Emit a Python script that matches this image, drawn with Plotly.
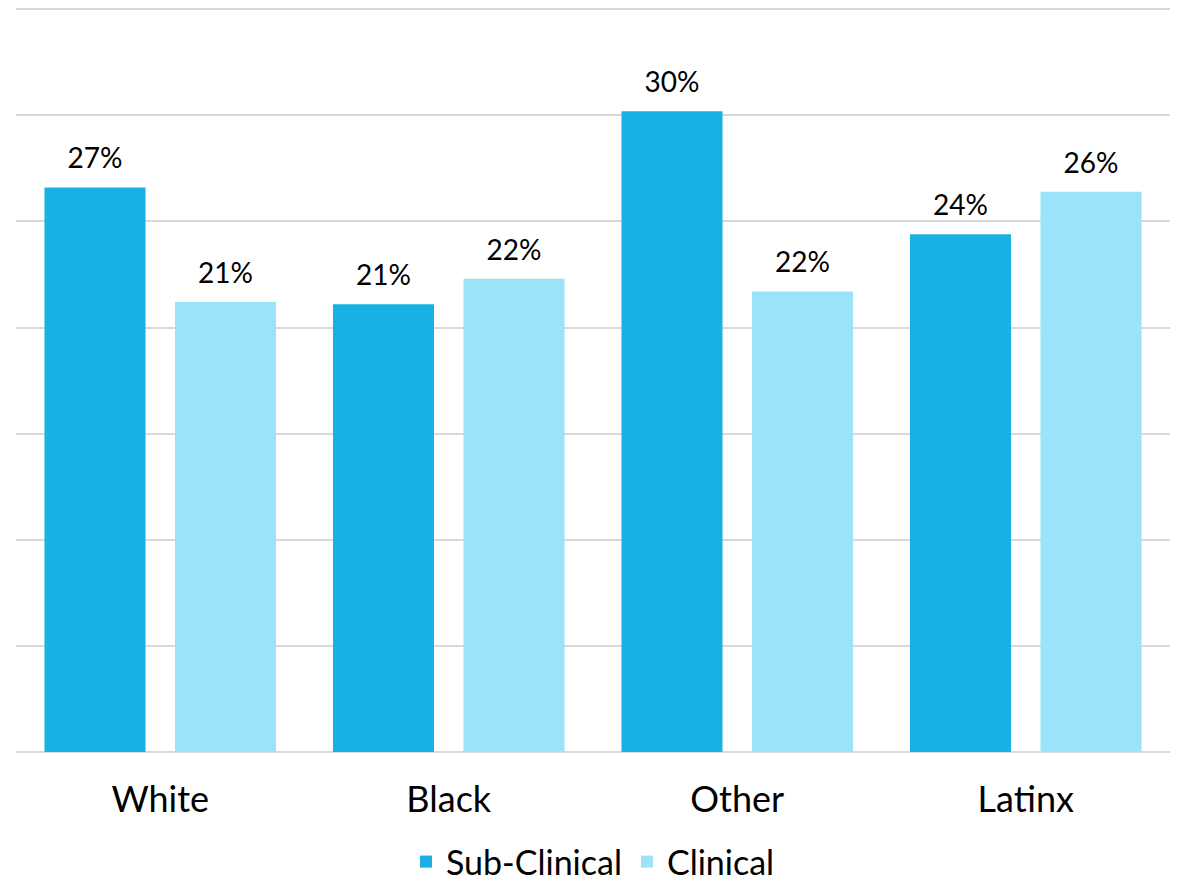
import plotly.graph_objects as go

categories = ["White", "Black", "Other", "Latinx"]
sub_clinical = [26.6, 21.1, 30.2, 24.4]
clinical = [21.2, 22.3, 21.7, 26.4]

FONT = "Lato, 'Open Sans', sans-serif"
SUB_COLOR = "#19B0E3"
CLIN_COLOR = "#9AE3F8"

fig = go.Figure()
for name, vals, color, grp in [("Sub-Clinical", sub_clinical, SUB_COLOR, "a"),
                               ("Clinical", clinical, CLIN_COLOR, "b")]:
    fig.add_trace(go.Bar(
        name=name, x=categories, y=vals, marker_color=color, marker_line_width=0,
        offsetgroup=grp, alignmentgroup="g", hoverinfo="x+y",
    ))
for vals, grp in [(sub_clinical, "a"), (clinical, "b")]:
    fig.add_trace(go.Scatter(
        x=categories, y=vals, mode="markers+text", offsetgroup=grp, alignmentgroup="g",
        text=[f"{v:.0f}%" for v in vals], textposition="top center",
        textfont=dict(size=28, color="#000000", family=FONT),
        marker=dict(size=18, color="rgba(0,0,0,0)"),
        showlegend=False, hoverinfo="skip", cliponaxis=False,
    ))

# page has an 8px body margin; figure is 1170x874 placed at (8, 8)
fig_w, fig_h = 1170, 874
plot_bottom = 744      # baseline (page y 752)
paper_bottom = 864
paper_h = paper_bottom
dom0 = (paper_bottom - plot_bottom) / paper_h

fig.update_layout(
    width=fig_w, height=fig_h,
    margin=dict(l=8, r=8, t=0, b=fig_h - paper_bottom, autoexpand=False),
    paper_bgcolor="white", plot_bgcolor="white",
    barmode="group", bargap=0.095, bargroupgap=0.226,
    scattermode="group", scattergap=0.095,
    font=dict(family=FONT, color="#000000"),
    showlegend=True,
    legend=dict(orientation="h", x=0.5, xanchor="center",
                y=(paper_bottom - 854) / paper_h, yanchor="middle",
                font=dict(size=34, family=FONT), traceorder="normal"),
)
fig.update_yaxes(domain=[dom0, 1], range=[0, 35.06], tickvals=[0, 5, 10, 15, 20, 25, 30, 35],
                 showticklabels=False, showgrid=True,
                 gridcolor="#D9D9D9", gridwidth=2, zeroline=True, zerolinecolor="#D9D9D9",
                 zerolinewidth=2, automargin=False)
fig.update_xaxes(tickfont=dict(size=36, family=FONT), ticks="", showline=False,
                 ticklabelstandoff=23, automargin=False)

fig.write_html("out.html")
